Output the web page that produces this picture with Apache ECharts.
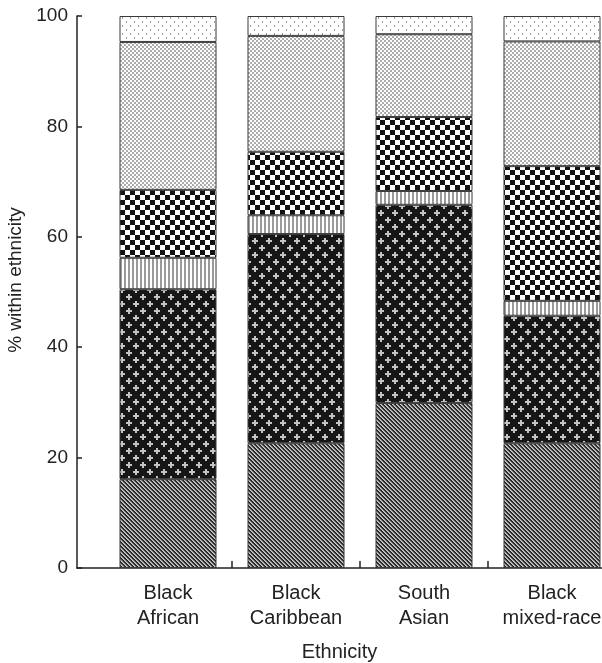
<!DOCTYPE html>
<html><head><meta charset="utf-8">
<script src="https://cdn.jsdelivr.net/npm/echarts@6/dist/echarts.min.js"></script>
<style>html,body{margin:0;padding:0;background:#fff}#c{width:602px;height:663px}</style>
</head><body><div id="c"></div>
<script>
// ---- data ----
const categories = ['Black\nAfrican', 'Black\nCaribbean', 'South\nAsian', 'Black\nmixed-race'];
const segDiagonal = [16.1, 22.6, 29.9, 22.6];
const segCrosses  = [34.4, 37.9, 35.9, 23.1];
const segStripes  = [5.7, 3.4, 2.5, 2.7];
const segChecker  = [12.3, 11.5, 13.4, 24.4];
const segFineDots = [26.8, 21.0, 15.0, 22.6];
const segSparse   = [4.7, 3.6, 3.3, 4.6];
const yTicks = [0, 20, 40, 60, 80, 100];

// ---- patterns ----
function makePattern(w, h, draw) {
  const c = document.createElement('canvas');
  c.width = w; c.height = h;
  const g = c.getContext('2d');
  draw(g, w, h);
  return c;
}
const pDiagonal = makePattern(4, 4, (g) => {
  const cols = ['#cfcfcf', '#9a9a9a', '#3a3a3a', '#1e1e1e'];
  for (let x = 0; x < 4; x++) for (let y = 0; y < 4; y++) {
    const k = ((x - y) % 4 + 4) % 4;
    g.fillStyle = cols[k];
    g.fillRect(x, y, 1, 1);
  }
});
const pCrosses = makePattern(14, 14, (g) => {
  g.fillStyle = '#161616'; g.fillRect(0, 0, 14, 14);
  g.fillStyle = '#c4c4c4';
  g.fillRect(0, 2, 6, 2); g.fillRect(2, 0, 2, 6);
  g.fillRect(7, 9, 6, 2); g.fillRect(9, 7, 2, 6);
});
const pStripes = makePattern(4, 2, (g) => {
  g.fillStyle = '#ffffff'; g.fillRect(0, 0, 4, 2);
  g.fillStyle = '#9a9a9a'; g.fillRect(0, 0, 2, 2);
});
const pChecker = makePattern(10, 10, (g) => {
  g.fillStyle = '#ffffff'; g.fillRect(0, 0, 10, 10);
  g.fillStyle = '#111111'; g.fillRect(0, 0, 5, 5); g.fillRect(5, 5, 5, 5);
});
const pFineDots = makePattern(4, 4, (g) => {
  g.fillStyle = '#ffffff'; g.fillRect(0, 0, 4, 4);
  g.fillStyle = '#adadad'; g.fillRect(0, 0, 2, 2); g.fillRect(2, 2, 2, 2);
});
const pSparse = makePattern(8, 8, (g) => {
  g.fillStyle = '#ffffff'; g.fillRect(0, 0, 8, 8);
  g.fillStyle = '#9a9a9a'; g.fillRect(2, 1, 1, 2); g.fillRect(6, 5, 1, 2);
});

const segs = [
  [segDiagonal, pDiagonal],
  [segCrosses, pCrosses],
  [segStripes, pStripes],
  [segChecker, pChecker],
  [segFineDots, pFineDots],
  [segSparse, pSparse]
];

const chart = echarts.init(document.getElementById('c'), null, {renderer: 'canvas'});
const font = '"Liberation Sans", Arial, sans-serif';
chart.setOption({
  animation: false,
  backgroundColor: '#ffffff',
  grid: [
    {left: 104, width: 512, top: 16, bottom: 95, containLabel: false, outerBoundsMode: 'none'},
    {left: 77, right: 0, top: 16, bottom: 95, containLabel: false, outerBoundsMode: 'none'}
  ],
  xAxis: [
    {
      type: 'category', gridIndex: 0, data: categories,
      axisLine: {show: false}, axisTick: {show: false}, splitLine: {show: false},
      axisLabel: {fontSize: 20, lineHeight: 25, color: '#222', fontFamily: font, margin: 13, interval: 0}
    },
    {
      type: 'value', gridIndex: 1, min: 0.29, max: 4.39,
      splitLine: {show: false},
      axisLine: {show: true, lineStyle: {color: '#222', width: 1.5}},
      axisTick: {show: true, inside: true, length: 7, customValues: [1.5, 2.5, 3.5], lineStyle: {color: '#222', width: 1.5}},
      axisLabel: {show: false},
      name: 'Ethnicity', nameLocation: 'middle', nameGap: 74,
      nameTextStyle: {fontSize: 20, color: '#222', fontFamily: font}
    }
  ],
  yAxis: [
    {type: 'value', gridIndex: 0, min: 0, max: 100, show: false},
    {
      type: 'value', gridIndex: 1, min: 0, max: 100, interval: 20,
      splitLine: {show: false},
      axisLine: {show: true, lineStyle: {color: '#222', width: 1.5}},
      axisTick: {show: true, inside: true, length: 5, lineStyle: {color: '#222', width: 1.5}},
      axisLabel: {fontSize: 19, color: '#222', fontFamily: font, margin: 9,
        formatter: (v) => yTicks.includes(v) ? String(v) : ''},
      name: '% within ethnicity', nameLocation: 'middle', nameGap: 49,
      nameTextStyle: {fontSize: 19, color: '#222', fontFamily: font, padding: [0, 0, 0, 24]}
    }
  ],
  series: segs.map(([vals, pat]) => ({
    type: 'bar', stack: 'total', barWidth: 97, xAxisIndex: 0, yAxisIndex: 0,
    data: vals,
    itemStyle: {color: {image: pat, repeat: 'repeat'}, borderColor: '#3a3a3a', borderWidth: 1}
  }))
});
</script>
</body></html>
